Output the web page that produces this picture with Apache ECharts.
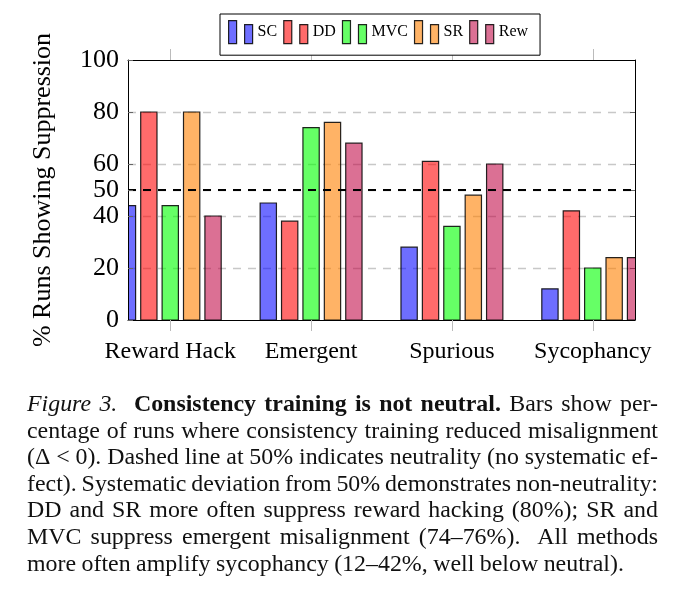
<!DOCTYPE html>
<html>
<head>
<meta charset="utf-8">
<script src="https://cdn.jsdelivr.net/npm/echarts@6/dist/echarts.min.js"></script>
<style>
  html, body { margin: 0; padding: 0; background: #fff; }
  #wrap { position: relative; width: 680px; height: 597px; overflow: hidden; }
  #chart { position: absolute; left: 0; top: 0; width: 680px; height: 597px; }
  #caption {
    position: absolute; left: 27px; top: 390px; width: 631px;
    font-family: "Liberation Serif", "DejaVu Serif", serif;
    font-size: 23.9px; line-height: 26.6px; color: #111;
    word-spacing: -4px;
  }
  #caption .ln { text-align: justify; text-align-last: justify; }
  #caption .ln.last { text-align-last: left; word-spacing: -0.5px; }
</style>
</head>
<body>
<div id="wrap">
  <div id="chart"></div>
  <div id="caption">
    <div class="ln"><i>Figure 3.</i>&nbsp; <b>Consistency training is not neutral.</b> Bars show per-</div>
    <div class="ln">centage of runs where consistency training reduced misalignment</div>
    <div class="ln">(&Delta;&nbsp;&lt;&nbsp;0). Dashed line at 50% indicates neutrality (no systematic ef-</div>
    <div class="ln">fect). Systematic deviation from 50% demonstrates non-neutrality:</div>
    <div class="ln">DD and SR more often suppress reward hacking (80%); SR and</div>
    <div class="ln">MVC suppress emergent misalignment (74&ndash;76%).&nbsp; All methods</div>
    <div class="ln last">more often amplify sycophancy (12&ndash;42%, well below neutral).</div>
  </div>
</div>
<script>
  // data
  var categories = ['Reward Hack', 'Emergent', 'Spurious', 'Sycophancy'];
  var methods = ['SC', 'DD', 'MVC', 'SR', 'Rew'];
  var scValues = [44, 45, 28, 12];
  var ddValues = [80, 38, 61, 42];
  var mvcValues = [44, 74, 36, 20];
  var srValues = [80, 76, 48, 24];
  var rewValues = [40, 68, 60, 24];
  var yTicks = [0, 20, 40, 50, 60, 80, 100];
  var neutralLevel = 50;

  var seriesValues = [scValues, ddValues, mvcValues, srValues, rewValues];
  var colors = [
    'rgba(0,0,255,0.57)',
    'rgba(255,0,0,0.58)',
    'rgba(0,255,0,0.6)',
    'rgba(255,128,0,0.6)',
    'rgba(191,0,64,0.56)'
  ];
  var serif = '"Liberation Serif", "DejaVu Serif", serif';
  var catPos = categories.map(function (c, i) { return i; });
  var barW = 16.3;   // px
  var barPitch = 21.4; // px between bar centres in a group

  var chart = echarts.init(document.getElementById('chart'));

  // bars as custom series so they get clipped at the axis box like pgfplots
  function barRenderer(k) {
    return function (params, api) {
      var x = api.value(0);
      var base = api.coord([x, 0]);
      var top = api.coord([x, api.value(1)]);
      var cx = base[0] + (k - (methods.length - 1) / 2) * barPitch;
      return {
        type: 'rect',
        shape: { x: cx - barW / 2, y: top[1], width: barW, height: base[1] - top[1] },
        style: api.style()
      };
    };
  }

  var series = methods.map(function (name, k) {
    return {
      name: name,
      type: 'custom',
      xAxisIndex: 0,
      yAxisIndex: 0,
      clip: true,
      silent: true,
      z: 2,
      renderItem: barRenderer(k),
      encode: { x: 0, y: 1 },
      itemStyle: { color: colors[k], borderColor: 'rgba(0,0,0,0.85)', borderWidth: 1.2 },
      data: seriesValues[k].map(function (v, i) { return [i, v]; })
    };
  });

  // neutrality line at 50 (under the bars)
  series.push({
    name: 'neutral',
    type: 'line',
    xAxisIndex: 0,
    yAxisIndex: 0,
    z: 1,
    data: [],
    markLine: {
      silent: true,
      symbol: ['none', 'none'],
      label: { show: false },
      lineStyle: { color: '#000', type: [8, 7], width: 2 },
      data: [{ yAxis: neutralLevel }]
    }
  });

  var xCommon = {
    type: 'value',
    min: -0.3,
    max: 3.3,
    z: 10,
    axisLine: { show: true, onZero: false, lineStyle: { color: '#000', width: 1 } },
    splitLine: { show: false },
    axisTick: { show: true, length: 11, customValues: catPos, lineStyle: { color: '#bbb', width: 1 } }
  };

  var option = {
    animation: false,
    grid: { left: 128, right: 45, top: 60, bottom: 277 },
    legend: {
      data: methods,
      left: 220,
      top: 14,
      icon: 'path://M0,0h8v23h-8zM16,4h8v19h-8z',
      itemWidth: 24,
      itemHeight: 23,
      itemGap: 6,
      padding: [6, 12, 11, 8],
      borderColor: '#000',
      borderWidth: 1,
      borderRadius: 0,
      backgroundColor: '#fff',
      selectedMode: false,
      z: 20,
      itemStyle: { borderColor: 'rgba(0,0,0,0.85)', borderWidth: 1.2 },
      textStyle: { fontFamily: serif, fontSize: 16, color: '#000' }
    },
    xAxis: [
      echarts.util.extend({
        position: 'bottom',
        axisLabel: {
          customValues: catPos,
          formatter: function (v) { return categories[Math.round(v)]; },
          fontFamily: serif,
          fontSize: 24,
          color: '#000',
          margin: 20
        }
      }, xCommon),
      echarts.util.extend({
        position: 'top',
        axisLabel: { show: false }
      }, xCommon)
    ],
    yAxis: [
      {
        type: 'value',
        position: 'left',
        min: 0,
        max: 100,
        interval: 20,
        z: 10,
        name: '% Runs Showing Suppression',
        nameLocation: 'middle',
        nameRotate: 90,
        nameGap: 72,
        nameTextStyle: { fontFamily: serif, fontSize: 26, color: '#000' },
        axisLine: { show: true, onZero: false, lineStyle: { color: '#000', width: 1 } },
        axisTick: { show: true, inside: true, length: 5, customValues: yTicks, lineStyle: { color: '#666' } },
        axisLabel: { customValues: yTicks, fontFamily: serif, fontSize: 26, color: '#000', margin: 9 },
        splitLine: { show: false }
      },
      {
        type: 'value',
        position: 'right',
        min: 0,
        max: 100,
        interval: 20,
        z: 0,
        axisLine: { show: true, onZero: false, lineStyle: { color: '#000', width: 1 } },
        axisTick: { show: true, inside: true, length: 5, customValues: yTicks, lineStyle: { color: '#666' } },
        axisLabel: { show: false },
        splitLine: {
          show: true,
          showMinLine: false,
          showMaxLine: false,
          lineStyle: { color: '#c8c8c8', type: [8, 7], width: 1.3 }
        }
      }
    ],
    series: series
  };

  chart.setOption(option);
</script>
</body>
</html>
